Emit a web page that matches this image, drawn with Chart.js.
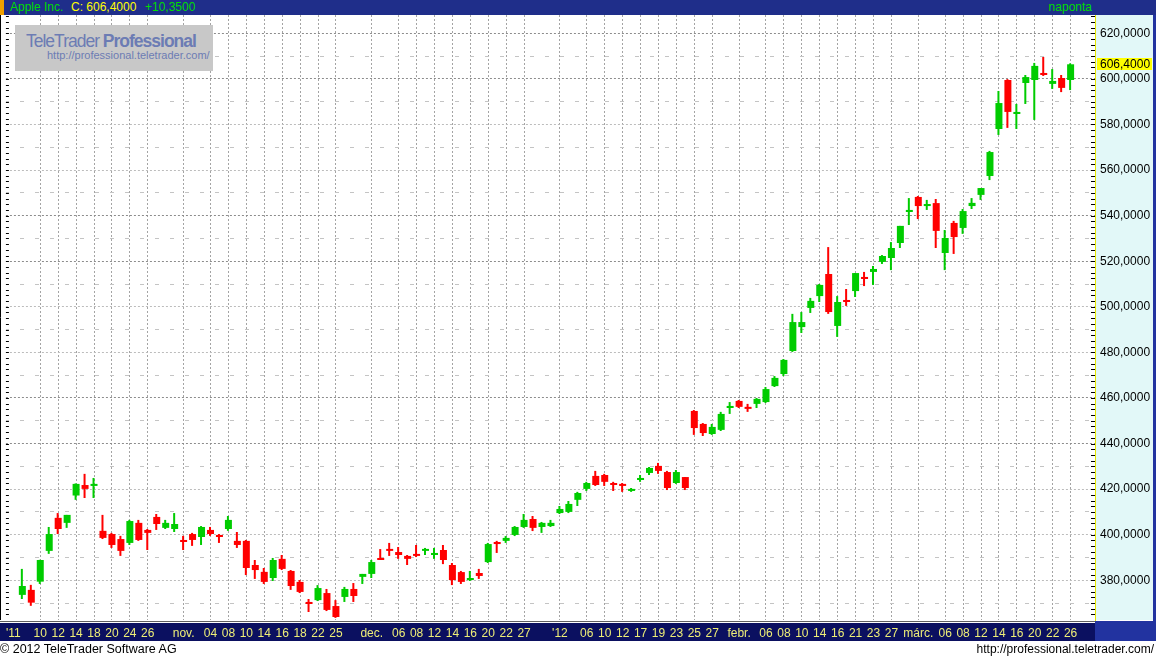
<!DOCTYPE html>
<html>
<head>
<meta charset="utf-8">
<script src="https://cdn.jsdelivr.net/npm/chart.js@4.4.1/dist/chart.umd.min.js"></script>
<style>
body { margin: 0; background: #fff; font-family: Arial, "Liberation Sans", sans-serif; }
#wrap { position: relative; width: 1156px; height: 659px; overflow: hidden; }
#chart { position: absolute; left: 0; top: 0; }
#head { position: absolute; left: 0; top: 0; width: 1156px; height: 15px; background: #1f2e8a; font-size: 12px; line-height: 15px; white-space: nowrap; }
#head span { position: absolute; top: 0; }
#head .mark { left: 0; width: 4px; height: 15px; background: #f0a000; }
.g { color: #00dd00; }
.y { color: #ffff00; }
#logo { position: absolute; left: 15px; top: 25px; width: 198px; height: 46px; background: #c8c8c8; color: #6c7cb4; }
#logo .t1 { position: absolute; left: 11px; top: 6px; font-size: 17.5px; letter-spacing: -1px; white-space: nowrap; }
#logo .t2 { position: absolute; left: 32px; top: 24px; font-size: 11px; white-space: nowrap; }
.foot { position: absolute; top: 642px; font-size: 12.5px; line-height: 15px; color: #000; white-space: nowrap; }
</style>
</head>
<body>
<div id="wrap">
  <canvas id="chart" width="1156" height="659"></canvas>
  <div id="head">
    <span class="mark"></span>
    <span class="g" style="left:10px">Apple Inc.</span>
    <span class="y" id="hClose" style="left:71px"></span>
    <span class="g" id="hChg" style="left:145px"></span>
    <span class="g" style="right:64px">naponta</span>
  </div>
  <div id="logo">
    <div class="t1">TeleTrader <b>Professional</b></div>
    <div class="t2">http://professional.teletrader.com/</div>
  </div>
  <div class="foot" style="left:0">© 2012 TeleTrader Software AG</div>
  <div class="foot" style="right:2px;font-size:12px">http://professional.teletrader.com/</div>
</div>
<script>
// kereskedési napok (2011.10.06 - 2012.03.26)
const days = [
  '2011.10.06','2011.10.07','2011.10.10','2011.10.11','2011.10.12','2011.10.13','2011.10.14','2011.10.17','2011.10.18','2011.10.19',
  '2011.10.20','2011.10.21','2011.10.24','2011.10.25','2011.10.26','2011.10.27','2011.10.28','2011.10.31',
  '2011.11.01','2011.11.02','2011.11.03','2011.11.04','2011.11.07','2011.11.08','2011.11.09','2011.11.10','2011.11.11','2011.11.14',
  '2011.11.15','2011.11.16','2011.11.17','2011.11.18','2011.11.21','2011.11.22','2011.11.23','2011.11.25','2011.11.28','2011.11.29','2011.11.30',
  '2011.12.01','2011.12.02','2011.12.05','2011.12.06','2011.12.07','2011.12.08','2011.12.09','2011.12.12','2011.12.13','2011.12.14',
  '2011.12.15','2011.12.16','2011.12.19','2011.12.20','2011.12.21','2011.12.22','2011.12.23','2011.12.27','2011.12.28','2011.12.29','2011.12.30',
  '2012.01.03','2012.01.04','2012.01.05','2012.01.06','2012.01.09','2012.01.10','2012.01.11','2012.01.12','2012.01.13','2012.01.17',
  '2012.01.18','2012.01.19','2012.01.20','2012.01.23','2012.01.24','2012.01.25','2012.01.26','2012.01.27','2012.01.30','2012.01.31',
  '2012.02.01','2012.02.02','2012.02.03','2012.02.06','2012.02.07','2012.02.08','2012.02.09','2012.02.10','2012.02.13','2012.02.14',
  '2012.02.15','2012.02.16','2012.02.17','2012.02.21','2012.02.22','2012.02.23','2012.02.24','2012.02.27','2012.02.28','2012.02.29',
  '2012.03.01','2012.03.02','2012.03.05','2012.03.06','2012.03.07','2012.03.08','2012.03.09','2012.03.12','2012.03.13','2012.03.14',
  '2012.03.15','2012.03.16','2012.03.19','2012.03.20','2012.03.21','2012.03.22','2012.03.23','2012.03.26'
];

const opens = [
  373.6,375.8,379.4,392.9,407.4,405.2,417.2,421.8,421.4,401.7,400.3,398.1,396.4,405.2,402.1,407.8,403.0,402.5,
  397.7,400.3,399.0,402.1,399.9,402.5,397.3,397.3,386.7,383.7,381.0,389.4,384.1,379.3,370.5,371.3,374.4,368.7,372.7,376.2,381.5,
  382.8,389.8,393.7,392.4,390.7,391.5,392.9,391.1,393.3,386.7,383.6,380.1,383.2,388.0,396.8,397.3,399.9,403.4,406.9,403.4,403.8,
  409.5,410.0,415.3,420.1,425.8,426.2,422.7,422.3,419.2,424.0,427.1,430.2,427.5,422.7,425.3,454.3,448.6,444.2,446.0,455.6,
  458.7,456.1,457.4,458.2,465.2,470.5,480.6,491.1,499.5,504.7,514.4,491.6,503.0,506.9,513.1,515.3,519.7,521.4,528.0,541.6,
  548.2,544.2,545.5,523.6,536.8,534.6,544.2,549.1,557.4,578.0,599.5,584.6,598.2,599.5,602.6,597.8,600.4,599.5
];
const highs = [
  385.0,378.0,389.0,403.4,409.5,408.7,422.5,426.7,424.9,408.7,400.8,399.5,406.5,406.5,402.5,409.1,406.5,409.5,
  399.5,400.8,403.8,403.4,400.3,408.2,401.2,397.7,388.9,385.4,389.8,391.1,384.5,380.1,371.8,377.9,376.2,371.3,377.1,378.8,382.8,
  388.9,393.7,396.4,394.6,391.1,395.5,394.2,394.2,395.5,387.6,384.1,384.1,385.0,396.4,397.3,399.4,403.8,409.1,408.2,405.6,406.5,
  412.6,414.8,418.8,423.2,428.0,426.7,423.2,422.7,420.5,426.2,429.7,431.5,428.0,428.4,425.3,454.7,449.0,448.6,453.9,458.2,
  459.1,457.4,460.0,464.8,469.6,477.1,496.9,497.7,503.9,510.0,526.2,504.7,507.8,514.8,515.3,517.9,522.7,528.4,535.5,547.7,
  548.6,546.9,547.3,533.7,537.7,542.9,547.7,552.1,568.4,594.7,599.9,589.0,601.7,607.0,609.6,604.3,601.7,606.8
];
const lows = [
  371.8,368.8,378.4,391.6,400.3,403.0,415.3,416.1,416.1,398.1,394.2,390.7,395.5,397.3,393.3,402.1,402.5,401.2,
  393.3,395.1,395.5,399.5,396.4,401.7,394.2,382.3,380.6,378.4,379.7,384.5,375.8,374.4,366.1,370.9,366.5,363.5,370.5,370.5,378.4,
  381.0,388.9,390.7,389.4,386.7,390.2,391.1,389.4,387.1,377.9,378.4,379.7,380.6,387.6,392.0,396.4,399.4,403.0,401.6,400.8,403.4,
  409.1,409.5,412.6,419.2,421.4,421.4,419.2,418.8,418.8,423.2,426.2,426.7,419.6,422.3,419.6,443.8,443.3,443.8,445.5,453.0,
  455.6,453.9,455.6,457.8,464.8,469.6,480.2,488.5,497.3,502.1,496.9,486.8,500.4,504.3,509.1,509.6,518.8,516.1,525.8,535.9,
  538.5,542.5,525.8,516.1,523.2,532.0,542.9,546.9,555.6,575.4,578.5,578.0,589.0,582.0,601.3,595.6,594.2,595.1
];
const closes = [
  377.5,370.2,388.9,400.3,402.5,408.7,422.3,420.1,422.3,398.6,395.5,392.9,406.0,397.7,400.8,404.7,405.2,404.7,
  396.8,397.7,403.4,400.3,399.0,406.5,395.5,385.4,384.5,379.3,388.9,385.0,377.5,374.9,369.6,376.6,367.0,363.9,376.2,373.1,382.8,
  388.0,388.9,392.9,391.1,389.4,390.7,393.7,392.0,388.9,380.1,379.3,381.0,381.9,395.9,395.9,398.6,403.4,406.5,403.0,405.2,405.2,
  411.3,413.5,418.3,422.7,421.8,423.2,421.8,421.4,420.1,424.9,429.3,428.0,420.5,427.5,420.5,446.8,444.6,447.3,453.0,456.5,
  456.1,455.2,459.6,463.9,468.8,476.7,493.3,493.3,502.6,509.6,497.7,502.1,502.1,514.8,512.2,516.6,522.3,525.8,535.5,542.5,
  544.2,545.1,533.3,530.2,530.6,542.0,545.6,552.1,567.9,589.4,585.5,585.5,600.8,605.7,601.7,599.1,596.05,606.4
];

// tengelyfeliratok
const tickIdx = [-1, 2, 4, 6, 8, 10, 12, 14, 18, 21, 23, 25, 27, 29, 31, 33, 35, 39, 42, 44, 46, 48, 50, 52, 54, 56,
  60, 63, 65, 67, 69, 71, 73, 75, 77, 80, 83, 85, 87, 89, 91, 93, 95, 97, 100, 103, 105, 107, 109, 111, 113, 115, 117];
const tickText = ["'11", '10', '12', '14', '18', '20', '24', '26', 'nov.', '04', '08', '10', '14', '16', '18', '22', '25',
  'dec.', '06', '08', '12', '14', '16', '20', '22', '27', "'12", '06', '10', '12', '17', '19', '23', '25', '27',
  'febr.', '06', '08', '10', '14', '16', '21', '23', '27', 'márc.', '06', '08', '12', '14', '16', '20', '22', '26'];
const yTicks = [380, 400, 420, 440, 460, 480, 500, 520, 540, 560, 580, 600, 620];
const yHalf = [370, 390, 410, 430, 450, 470, 490, 510, 530, 550, 570, 590, 610];

const fmt = v => v.toFixed(4).replace('.', ',');
const last = closes[closes.length - 1];
const chg = last - closes[closes.length - 2];
document.getElementById('hClose').textContent = 'C: ' + fmt(last);
document.getElementById('hChg').textContent = (chg >= 0 ? '+' : '') + fmt(chg);

const UP = '#00cc00', DOWN = '#ff0000';
const colorOf = i => closes[i] >= opens[i] ? UP : DOWN;

const bodies = days.map((d, i) => ({ x: i, y: [opens[i], closes[i]] }));
const wicks = days.map((d, i) => ({ x: i, y: [lows[i], highs[i]] }));

const xMin = -1.8333;
const xMax = xMin + 1094 / 9;

// keret, tengelysávok, jelenlegi ár
const frame = {
    id: 'frame',
    beforeDraw(chart) {
        const { ctx, chartArea: a, width } = chart;
        ctx.save();
        ctx.fillStyle = '#e2f8f8';
        ctx.fillRect(a.right, a.top, width - a.right - 3, a.bottom - a.top);
        ctx.fillStyle = '#2233a0';
        ctx.fillRect(width - 3, a.top, 3, a.bottom - a.top + 3);
        ctx.fillStyle = '#606060';
        ctx.fillRect(0, a.bottom + 1, a.right, 1);
        ctx.fillStyle = '#0b1060';
        ctx.fillRect(0, a.bottom + 3, a.right, 18);
        ctx.fillStyle = '#2233a0';
        ctx.fillRect(a.right, a.bottom + 1, width - a.right, 20);
        ctx.restore();
    },
    afterDraw(chart) {
        const { ctx, chartArea: a } = chart;
        const sy = chart.scales.y;
        ctx.save();
        ctx.strokeStyle = '#000';
        ctx.lineWidth = 1;
        ctx.beginPath();
        ctx.moveTo(0.5, a.top);
        ctx.lineTo(0.5, a.bottom);
        for (let v = 365; v <= 627.5; v += 2.5) {
            const y = Math.round(sy.getPixelForValue(v)) + 0.5;
            ctx.moveTo(a.left, y);
            ctx.lineTo(a.left + 3, y);
            ctx.moveTo(a.right - 4, y);
            ctx.lineTo(a.right, y);
        }
        ctx.stroke();

        const py = Math.round(sy.getPixelForValue(last));
        ctx.fillStyle = '#ffff00';
        ctx.fillRect(a.right + 2, py - 6, 55, 12);
        ctx.fillStyle = '#000';
        ctx.font = '12px Arial, "Liberation Sans"';
        ctx.textBaseline = 'middle';
        ctx.fillText(fmt(last), a.right + 5, py + 0.5);
        ctx.restore();
    }
};

new Chart(document.getElementById('chart'), {
    type: 'bar',
    data: {
        datasets: [{
            label: 'test',
            data: bodies,
            xAxisID: 'x',
            yAxisID: 'y',
            backgroundColor: c => colorOf(c.dataIndex),
            barThickness: 7,
            minBarLength: 2,
            grouped: false,
            inflateAmount: 0,
            borderWidth: 0,
            borderSkipped: false
        }, {
            label: 'kanóc',
            data: wicks,
            xAxisID: 'xw',
            yAxisID: 'y',
            backgroundColor: c => colorOf(c.dataIndex),
            barThickness: 2,
            grouped: false,
            inflateAmount: 0,
            borderWidth: 0,
            borderSkipped: false
        }]
    },
    options: {
        responsive: false,
        animation: false,
        devicePixelRatio: 1,
        layout: { padding: { left: 1, top: 15, right: 0, bottom: 0 } },
        plugins: { legend: { display: false }, tooltip: { enabled: false } },
        scales: {
            x: {
                type: 'linear',
                position: 'bottom',
                offset: false,
                min: xMin,
                max: xMax,
                afterBuildTicks: s => { s.ticks = tickIdx.map(v => ({ value: v })); },
                afterFit: s => { s.height = 39; },
                ticks: {
                    autoSkip: false,
                    maxRotation: 0,
                    minRotation: 0,
                    padding: 6,
                    color: '#eeee77',
                    font: { family: 'Arial, "Liberation Sans"', size: 12 },
                    callback: (v, i) => tickText[i]
                },
                grid: {
                    offset: false,
                    drawTicks: false,
                    color: c => (c.tick && c.tick.value < 0) ? 'rgba(0,0,0,0)' : '#a4a4a4'
                },
                border: { display: false, dash: [2, 2] }
            },
            // ugyanaz a tengely fél pixellel eltolva, hogy a kanócok élesek legyenek
            xw: {
                type: 'linear',
                position: 'bottom',
                offset: false,
                min: xMin + 0.5 / 9,
                max: xMax + 0.5 / 9,
                afterFit: s => { s.height = 0; },
                ticks: { display: false },
                grid: { display: false, offset: false, drawTicks: false },
                border: { display: false }
            },
            y: {
                position: 'right',
                min: 362.58,
                max: 628.03,
                afterBuildTicks: s => { s.ticks = yTicks.map(v => ({ value: v })); },
                afterFit: s => { s.width = 61; },
                ticks: {
                    padding: 5,
                    color: '#000',
                    font: { family: 'Arial, "Liberation Sans"', size: 12 },
                    callback: v => fmt(v)
                },
                grid: {
                    drawTicks: false,
                    color: c => [440, 460, 520, 540, 600, 620].includes(c.tick && c.tick.value) ? '#8c8c8c' : '#bcbcbc'
                },
                border: { display: true, color: '#e6e600', width: 1, dash: [2, 2] }
            },
            yh: {
                position: 'left',
                min: 362.58,
                max: 628.03,
                afterBuildTicks: s => { s.ticks = yHalf.map(v => ({ value: v })); },
                afterFit: s => { s.width = 0; },
                ticks: { display: false },
                grid: { drawTicks: false, color: '#c4c4c4' },
                border: { display: false, dash: [4, 11], dashOffset: 1 }
            }
        }
    },
    plugins: [frame]
});
</script>
</body>
</html>
